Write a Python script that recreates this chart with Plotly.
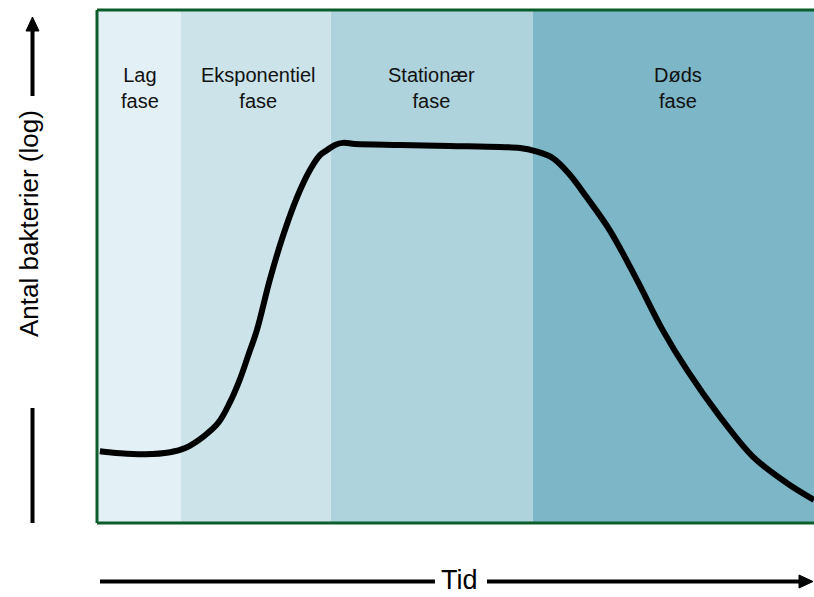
import plotly.graph_objects as go

# ---- data ----
tid = [0.4, 3.2, 6.7, 10.2, 12.3, 14.8, 16.9, 18.5, 19.9, 21.1, 22.3, 24.1, 25.9, 27.9,
       29.7, 31.1, 32.1, 33.2, 34.3, 36.0, 42.3, 49.2, 56.2, 59.0, 61.1, 63.6, 66.0,
       68.3, 71.5, 75.3, 78.9, 82.3, 86.9, 91.5, 96.2, 100.0]
antal = [1.40, 1.36, 1.34, 1.38, 1.46, 1.68, 1.95, 2.34, 2.79, 3.27, 3.76, 4.74, 5.58, 6.35,
         6.88, 7.17, 7.27, 7.37, 7.41, 7.39, 7.37, 7.35, 7.33, 7.31, 7.25, 7.11, 6.78,
         6.35, 5.71, 4.74, 3.76, 2.98, 2.07, 1.29, 0.78, 0.45]

phase_names = ["Lag<br>fase", "Eksponentiel<br>fase", "Stationær<br>fase", "Døds<br>fase"]
phase_start = [0.0, 11.7, 32.6, 60.8]
phase_end = [11.7, 32.6, 60.8, 100.0]
phase_label_x = [6.0, 22.5, 46.7, 81.0]
phase_colors = ["#e3f0f5", "#cbe3e9", "#aed3dc", "#7cb6c7"]

FONT = "Liberation Sans, Arial, sans-serif"
W, H = 814, 597
L, R, T, B = 97, 0, 10, 74
PW, PH = W - L - R, H - T - B


def px(x):
    return (x - L) / PW


def py(y):
    return (H - B - y) / PH


fig = go.Figure()
fig.add_trace(go.Scatter(x=tid, y=antal, mode="lines",
                         line=dict(color="black", width=6, shape="spline", smoothing=1.0),
                         hoverinfo="skip", showlegend=False))

shapes = []
for s, e, c in zip(phase_start, phase_end, phase_colors):
    shapes.append(dict(type="rect", xref="x", yref="paper", x0=s, x1=e, y0=0, y1=1,
                       fillcolor=c, line=dict(width=0), layer="below"))

green = "#0b5e2b"
# border: left, top, bottom (right edge runs off the picture)
shapes.append(dict(type="line", xref="paper", yref="paper", x0=0, x1=0, y0=0, y1=1,
                   line=dict(color=green, width=3)))
shapes.append(dict(type="line", xref="paper", yref="paper", x0=0, x1=1.01, y0=1, y1=1,
                   line=dict(color=green, width=3)))
shapes.append(dict(type="line", xref="paper", yref="paper", x0=0, x1=1.01, y0=0, y1=0,
                   line=dict(color=green, width=3)))

# y arrow
ax_x = 32.5
shapes.append(dict(type="line", xref="paper", yref="paper", x0=px(ax_x), x1=px(ax_x),
                   y0=py(523), y1=py(408), line=dict(color="black", width=4)))
shapes.append(dict(type="line", xref="paper", yref="paper", x0=px(ax_x), x1=px(ax_x),
                   y0=py(96), y1=py(28), line=dict(color="black", width=4)))
shapes.append(dict(type="path", xref="paper", yref="paper",
                   path=f"M {px(26)} {py(31)} L {px(39)} {py(31)} L {px(ax_x)} {py(17)} Z",
                   fillcolor="black", line=dict(color="black", width=1)))
# x arrow
ay = 581.5
shapes.append(dict(type="line", xref="paper", yref="paper", x0=px(100), x1=px(435),
                   y0=py(ay), y1=py(ay), line=dict(color="black", width=4)))
shapes.append(dict(type="line", xref="paper", yref="paper", x0=px(487), x1=px(802),
                   y0=py(ay), y1=py(ay), line=dict(color="black", width=4)))
shapes.append(dict(type="path", xref="paper", yref="paper",
                   path=f"M {px(799)} {py(575)} L {px(799)} {py(588)} L {px(813)} {py(ay)} Z",
                   fillcolor="black", line=dict(color="black", width=1)))

annotations = []
for name, lx in zip(phase_names, phase_label_x):
    annotations.append(dict(x=lx, y=py(62), xref="x", yref="paper", text=name,
                            showarrow=False, yanchor="top", xanchor="center",
                            font=dict(family=FONT, size=20, color="#111111")))
annotations.append(dict(x=px(29), y=py(224), xref="paper", yref="paper",
                        text="Antal bakterier (log)", textangle=-90, showarrow=False,
                        xanchor="center", yanchor="middle",
                        font=dict(family=FONT, size=26, color="black")))
annotations.append(dict(x=px(459), y=py(580), xref="paper", yref="paper",
                        text="Tid", showarrow=False, borderpad=0,
                        xanchor="center", yanchor="middle",
                        font=dict(family=FONT, size=27, color="black")))

fig.update_layout(
    width=W, height=H,
    margin=dict(l=L, r=R, t=T, b=B),
    paper_bgcolor="white", plot_bgcolor="white",
    shapes=shapes, annotations=annotations,
    xaxis=dict(range=[0, 100], visible=False, fixedrange=True),
    yaxis=dict(range=[0, 10], visible=False, fixedrange=True),
    showlegend=False,
)
fig.write_html(
    "out.html",
    config={"displayModeBar": False},
    post_script=("document.body.style.margin='0';"
                 "document.body.style.overflow='hidden';"
                 "document.documentElement.style.overflow='hidden';"),
)
